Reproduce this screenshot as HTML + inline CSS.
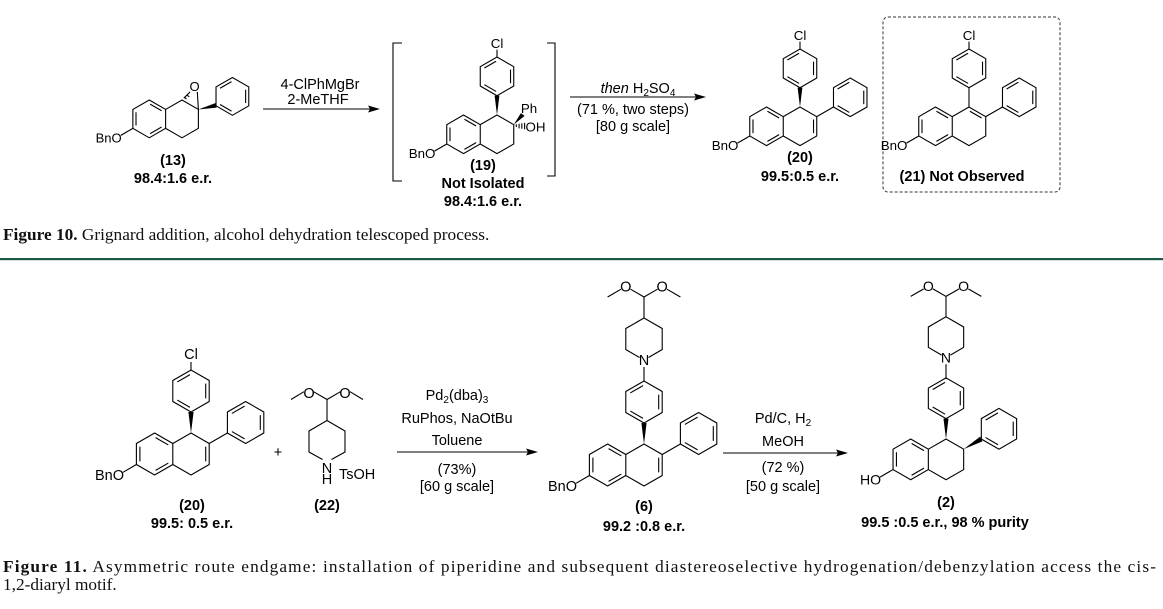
<!DOCTYPE html>
<html><head><meta charset="utf-8"><style>
html,body{margin:0;padding:0;background:#fff;}
svg{display:block;}
path,line,polyline{vector-effect:non-scaling-stroke;}
.s{fill:none;stroke:#000;stroke-width:1.1;}
.t{font-family:"Liberation Sans",sans-serif;font-size:14.5px;fill:#000;}
.b{font-family:"Liberation Sans",sans-serif;font-size:14.5px;font-weight:bold;fill:#000;}
.c{font-family:"Liberation Serif",serif;font-size:17.3px;fill:#111;}
</style></head><body>
<svg width="1163" height="609" viewBox="0 0 1163 609" xmlns="http://www.w3.org/2000/svg">
<defs>
<g id="bz">
<path class="s" d="M-18.2,10.5 L-18.2,-10.5 L0,-21 L18.2,-10.5 L18.2,10.5 L0,21 Z M-13.72,-9.05 L-0.98,-16.4 M14.7,-7.35 L14.7,7.35 M-0.98,16.4 L-13.72,9.04"/>
</g>
<g id="core">
<path class="s" d="M-36.4,0 L-18.2,10.5 L-18.2,31.5 L-36.4,42 L-54.6,31.5 L-54.6,10.5 Z M-18.2,10.5 L0,0 L18.2,10.5 L18.2,31.5 L0,42 L-18.2,31.5 M-35.42,4.6 L-22.68,11.96 M-22.68,30.04 L-35.42,37.39 M-51.1,28.35 L-51.1,13.65 M-54.6,31.5 L-68,39.3"/>
</g>
<g id="aryl">
<polygon points="0,0 -2.6,-21 2.6,-21" fill="#000"/>
<use href="#bz" transform="translate(0,-42)"/>
</g>
<g id="pip">
<path class="s" d="M0,-63 L0,-77 M-4.5,-86.5 L-18.2,-94.5 L-18.2,-115.5 L0,-126 L18.2,-115.5 L18.2,-94.5 L4.5,-86.5 M0,-126 L0,-147 L-13.5,-154.8 M-23,-154.8 L-36.4,-147 M0,-147 L13.5,-154.8 M23,-154.8 L36.4,-147"/>
<text class="t" x="0" y="-79" text-anchor="middle" font-size="15">N</text>
<text class="t" x="-18.2" y="-152.5" text-anchor="middle" font-size="15">O</text>
<text class="t" x="18.2" y="-152.5" text-anchor="middle" font-size="15">O</text>
</g>
</defs>

<!-- 13 -->
<g transform="translate(182,100) scale(0.9)">
<use href="#core"/>
<text class="t" x="-67" y="47" text-anchor="end" font-size="16">BnO</text>
<path class="s" d="M2,-2 L9,-9 M18.2,10.5 L17,-9"/>
<path class="s" d="M3,-3 L5,-1 M5.5,-5.5 L8,-3.5"/>
<text class="t" x="14" y="-10" text-anchor="middle" font-size="16">O</text>
<polygon points="18.2,10.5 37,3.5 38.5,8.5" fill="#000"/>
<use href="#bz" transform="translate(56,-4)"/>
</g>
<text class="b" x="173" y="165" text-anchor="middle">(13)</text>
<text class="b" x="173" y="183" text-anchor="middle">98.4:1.6 e.r.</text>

<line x1="263" y1="109" x2="372" y2="109" stroke="#000" stroke-width="1.1"/>
<polygon points="380,109 368,105.5 370,109 368,112.5" fill="#000"/>
<text class="t" x="320" y="89" text-anchor="middle">4-ClPhMgBr</text>
<text class="t" x="318" y="104" text-anchor="middle">2-MeTHF</text>

<path class="s" d="M402,43 L393,43 L393,181 L402,181 M547,43 L555,43 L555,176 L547,176"/>

<!-- 19 -->
<g transform="translate(497,115) scale(0.92)">
<use href="#core"/>
<use href="#aryl"/>
<path class="s" d="M0,-63 L0,-71"/>
<text class="t" x="0" y="-73" text-anchor="middle" font-size="16">Cl</text>
<text class="t" x="-67" y="47" text-anchor="end" font-size="16">BnO</text>
<polygon points="18.2,10.5 26,-2 30,1" fill="#000"/>
<text class="t" x="26" y="-2" font-size="16">Ph</text>
<path class="s" d="M21,10 L21,13 M24,9.5 L24,14.5 M27,9 L27,15 M30,8.5 L30,15.5"/>
<text class="t" x="31" y="18" font-size="16">OH</text>
</g>
<text class="b" x="483" y="170" text-anchor="middle">(19)</text>
<text class="b" x="483" y="188" text-anchor="middle">Not Isolated</text>
<text class="b" x="483" y="206" text-anchor="middle">98.4:1.6 e.r.</text>

<line x1="570" y1="97" x2="698" y2="97" stroke="#000" stroke-width="1.1"/>
<polygon points="706,97 694,93.5 696,97 694,100.5" fill="#000"/>
<text class="t" x="638" y="93" text-anchor="middle"><tspan font-style="italic">then</tspan> H<tspan font-size="10" dy="3">2</tspan><tspan dy="-3">SO</tspan><tspan font-size="10" dy="3">4</tspan></text>
<text class="t" x="633" y="114" text-anchor="middle">(71 %, two steps)</text>
<text class="t" x="633" y="131" text-anchor="middle">[80 g scale]</text>

<!-- 20 top -->
<g transform="translate(800,107) scale(0.92)">
<use href="#core"/>
<use href="#aryl"/>
<path class="s" d="M0,-63 L0,-71 M14.7,13.65 L14.7,28.35 M18.2,10.5 L36.4,0"/>
<text class="t" x="0" y="-73" text-anchor="middle" font-size="16">Cl</text>
<text class="t" x="-67" y="47" text-anchor="end" font-size="16">BnO</text>
<use href="#bz" transform="translate(54.6,-10.5)"/>
</g>
<text class="b" x="800" y="162" text-anchor="middle">(20)</text>
<text class="b" x="800" y="181" text-anchor="middle">99.5:0.5 e.r.</text>

<rect x="883" y="17" width="177" height="175" rx="5" fill="none" stroke="#333" stroke-width="1" stroke-dasharray="3,2"/>
<g transform="translate(969,107) scale(0.92)">
<use href="#core"/>
<use href="#bz" transform="translate(0,-42)"/>
<path class="s" d="M0,0 L0,-21 M0,-63 L0,-71 M0.98,4.6 L13.72,11.96 M18.2,10.5 L36.4,0"/>
<text class="t" x="0" y="-73" text-anchor="middle" font-size="16">Cl</text>
<text class="t" x="-67" y="47" text-anchor="end" font-size="16">BnO</text>
<use href="#bz" transform="translate(54.6,-10.5)"/>
</g>
<text class="b" x="962" y="181" text-anchor="middle">(21) Not Observed</text>

<text class="c" x="3" y="240"><tspan font-weight="bold">Figure 10.</tspan> Grignard addition, alcohol dehydration telescoped process.</text>
<rect x="0" y="258" width="1163" height="2.2" fill="#1d5a44"/>

<!-- 20 bottom -->
<g transform="translate(191,433)">
<use href="#core"/>
<use href="#aryl"/>
<path class="s" d="M0,-63 L0,-71 M14.7,13.65 L14.7,28.35 M18.2,10.5 L36.4,0"/>
<text class="t" x="0" y="-74" text-anchor="middle" font-size="15">Cl</text>
<text class="t" x="-67" y="47" text-anchor="end" font-size="15">BnO</text>
<use href="#bz" transform="translate(54.6,-10.5)"/>
</g>
<text class="b" x="192" y="510" text-anchor="middle">(20)</text>
<text class="b" x="192" y="528" text-anchor="middle">99.5: 0.5 e.r.</text>
<text class="t" x="278" y="457" text-anchor="middle">+</text>

<!-- 22 -->
<path class="s" d="M322.5,459.5 L309,452 L309,431 L327,420.5 L345,431 L345,452 L331.5,459.5 M327,420.5 L327,399.5 L313.5,391.7 M304,391.7 L291,399.5 M327,399.5 L340.5,391.7 M350,391.7 L363,399.5"/>
<text class="t" x="327" y="473" text-anchor="middle">N</text>
<text class="t" x="327" y="484" text-anchor="middle">H</text>
<text class="t" x="339" y="479">TsOH</text>
<text class="t" x="309" y="398" text-anchor="middle">O</text>
<text class="t" x="345" y="398" text-anchor="middle">O</text>
<text class="b" x="327" y="510" text-anchor="middle">(22)</text>

<line x1="397" y1="452" x2="530" y2="452" stroke="#000" stroke-width="1.1"/>
<polygon points="538,452 526,448.5 528,452 526,455.5" fill="#000"/>
<text class="t" x="457" y="400" text-anchor="middle">Pd<tspan font-size="10" dy="3">2</tspan><tspan dy="-3">(dba)</tspan><tspan font-size="10" dy="3">3</tspan></text>
<text class="t" x="457" y="423" text-anchor="middle">RuPhos, NaOtBu</text>
<text class="t" x="457" y="445" text-anchor="middle">Toluene</text>
<text class="t" x="457" y="474" text-anchor="middle">(73%)</text>
<text class="t" x="457" y="491" text-anchor="middle">[60 g scale]</text>

<!-- 6 -->
<g transform="translate(644,444)">
<use href="#core"/>
<use href="#aryl"/>
<use href="#pip"/>
<path class="s" d="M14.7,13.65 L14.7,28.35 M18.2,10.5 L36.4,0"/>
<text class="t" x="-67" y="47" text-anchor="end" font-size="15">BnO</text>
<use href="#bz" transform="translate(54.6,-10.5)"/>
</g>
<text class="b" x="644" y="511" text-anchor="middle">(6)</text>
<text class="b" x="644" y="531" text-anchor="middle">99.2 :0.8 e.r.</text>

<line x1="723" y1="453" x2="840" y2="453" stroke="#000" stroke-width="1.1"/>
<polygon points="848,453 836,449.5 838,453 836,456.5" fill="#000"/>
<text class="t" x="783" y="423" text-anchor="middle">Pd/C, H<tspan font-size="10" dy="3">2</tspan></text>
<text class="t" x="783" y="446" text-anchor="middle">MeOH</text>
<text class="t" x="783" y="472" text-anchor="middle">(72 %)</text>
<text class="t" x="783" y="491" text-anchor="middle">[50 g scale]</text>

<!-- 2 -->
<g transform="translate(946,439) scale(0.97)">
<use href="#core"/>
<use href="#aryl"/>
<use href="#pip"/>
<polygon points="18.2,10.5 35.2,-2.4 37.6,2.4" fill="#000"/>
<text class="t" x="-67" y="47" text-anchor="end" font-size="15">HO</text>
<use href="#bz" transform="translate(54.6,-10.5)"/>
</g>
<text class="b" x="946" y="507" text-anchor="middle">(2)</text>
<text class="b" x="945" y="527" text-anchor="middle">99.5 :0.5 e.r., 98 % purity</text>

<text class="c" x="3" y="572" textLength="1153" lengthAdjust="spacing"><tspan font-weight="bold">Figure 11.</tspan> Asymmetric route endgame: installation of piperidine and subsequent diastereoselective hydrogenation/debenzylation access the cis-</text>
<text class="c" x="3" y="590">1,2-diaryl motif.</text>
</svg>
</body></html>
